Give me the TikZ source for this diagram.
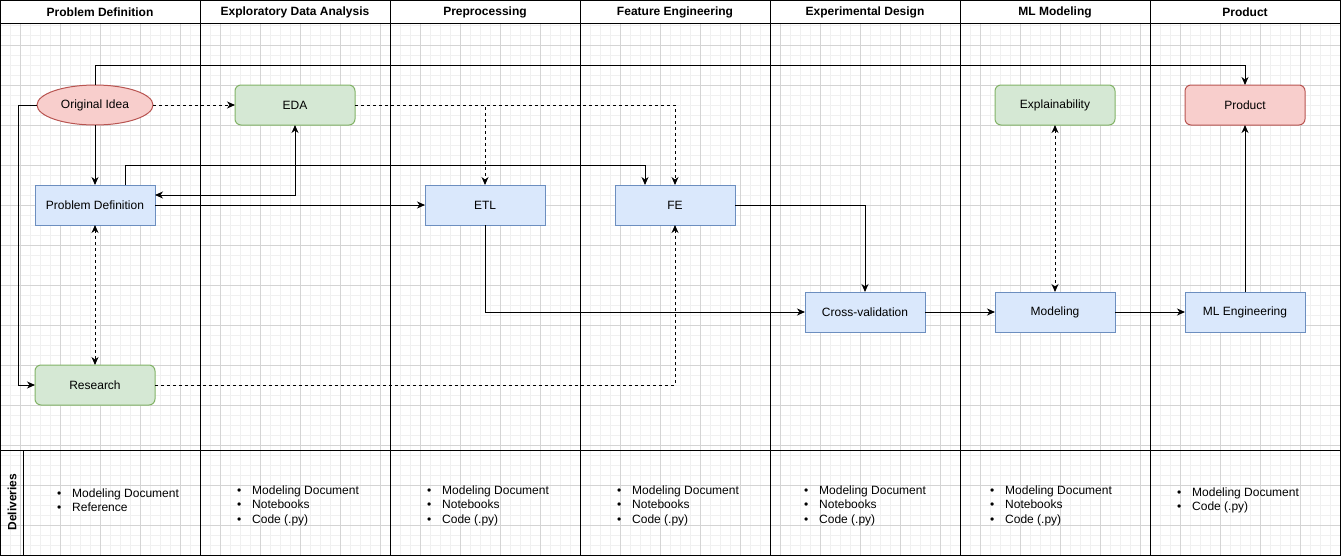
\documentclass[tikz,border=0pt]{standalone}
\usepackage{fontspec}
\setmainfont{Liberation Sans}
\usepackage{tikz}
\usetikzlibrary{calc,positioning,arrows.meta,shapes.geometric}
\definecolor{bluefill}{HTML}{DAE8FC}
\definecolor{bluedraw}{HTML}{6C8EBF}
\definecolor{greenfill}{HTML}{D5E8D4}
\definecolor{greendraw}{HTML}{82B366}
\definecolor{redfill}{HTML}{F8CECC}
\definecolor{reddraw}{HTML}{B85450}
\newcommand{\itm}[1]{\makebox[15pt][l]{\textbullet}#1}

\begin{document}
\begin{tikzpicture}[x=1pt,y=-1pt,font=\fontsize{12}{14.5}\selectfont]

\tikzset{box/.style={minimum width=120pt,minimum height=40pt,inner sep=0pt,outer sep=0pt,line width=1pt},
bluebox/.style={box,fill=bluefill,draw=bluedraw},
greenbox/.style={box,fill=greenfill,draw=greendraw,rounded corners=6pt},
redbox/.style={box,fill=redfill,draw=reddraw,rounded corners=6pt},
ideanode/.style={shape=ellipse,minimum width=116pt,minimum height=40pt,inner sep=0pt,outer sep=0pt,fill=redfill,draw=reddraw,line width=1pt},
arr/.style={line width=1pt,-{Stealth[length=8pt,width=7pt,inset=2.5pt]}},
both/.style={line width=1pt,{Stealth[length=8pt,width=7pt,inset=2.5pt]}-{Stealth[length=8pt,width=7pt,inset=2.5pt]}},
dsh/.style={dash pattern=on 3pt off 3pt},
minorgrid/.style={draw=black!6,line width=1pt},
majorgrid/.style={draw=black!17,line width=1pt},
lane/.style={draw=black,line width=1pt},
lanehead/.style={font=\fontsize{12}{14.5}\selectfont\bfseries,inner sep=0pt},
delivery/.style={anchor=west,align=left,inner sep=0pt}}

\useasboundingbox (0,0) rectangle (1341,557);
\fill[white] (0,0) rectangle (1341,557);

% Grid
\foreach \gx in {0,10,...,1340} \draw[minorgrid] (\gx,23) -- (\gx,555);
\foreach \gy in {25,35,...,555} \draw[minorgrid] (0,\gy) -- (1340,\gy);
\foreach \gx in {20,60,...,1340} \draw[majorgrid] (\gx,23) -- (\gx,555);
\foreach \gy in {45,85,...,525} \draw[majorgrid] (0,\gy) -- (1340,\gy);

% Lanes
\draw[lane] (0.5,0.5) rectangle (1340.5,555);
\draw[lane] (0,23) -- (1341,23);
\draw[lane] (0,450) -- (1341,450);
\draw[lane] (23,450) -- (23,555);
\foreach \lx in {200,390,580,770,960,1150} \draw[lane] (\lx,0) -- (\lx,555);

% Lane titles
\foreach \hx/\htext [count=\i] in {100/Problem Definition,295/Exploratory Data Analysis,485/Preprocessing,675/Feature Engineering,865/Experimental Design,1055/ML Modeling,1245/Product}
  \node[lanehead] (head\i) at (\hx,12) {\htext};
\node[lanehead,rotate=90] (delhead) at (12,502) {Deliveries};

% Nodes
\node[ideanode] (idea) at (95,105) {Original Idea};
\node[greenbox] (eda) at (295,105) {EDA};
\node[bluebox,below=60pt of idea] (probdef) {Problem Definition};
\node[greenbox,below=140pt of probdef] (research) {Research};
\node[bluebox] (etl) at (485,205) {ETL};
\node[bluebox] (fe) at (675,205) {FE};
\node[bluebox] (crossval) at (865,312) {Cross-validation};
\node[bluebox,right=70pt of crossval] (modeling) {Modeling};
\node[bluebox,right=70pt of modeling] (mleng) {ML Engineering};
\node[greenbox] (explain) at (1055,105) {Explainability};
\node[redbox] (product) at (1245,105) {Product};

% Edges
\draw[arr] (idea.north) -- ++(0,-20) -| (product.north);
\draw[arr] (idea.west) -- ++(-19,0) |- (research.west);
\draw[arr,dsh] (idea) -- (eda);
\draw[arr] (idea) -- (probdef);
\draw[both] (eda.south) |- ($(probdef.east)+(0,-10)$);
\draw[arr] ($(probdef.north)+(30,0)$) -- ++(0,-20) -| ($(fe.north)+(-30,0)$);
\draw[arr] (probdef) -- (etl);
\draw[both,dsh] (probdef) -- (research);
\draw[arr,dsh] (eda) -| (etl);
\draw[arr,dsh] (eda) -| (fe);
\draw[arr,dsh] (research) -| (fe);
\draw[arr] (etl) |- (crossval);
\draw[arr] (fe) -| (crossval);
\draw[arr] (crossval) -- (modeling);
\draw[arr] (modeling) -- (mleng);
\draw[both,dsh] (explain) -- (modeling);
\draw[arr] (mleng) -- (product);

% Deliveries
\node[delivery] (del1) at (57,500) {\itm{Modeling Document}\\\itm{Reference}};
\node[delivery] (del2) at (237,505.5) {\itm{Modeling Document}\\\itm{Notebooks}\\\itm{Code (.py)}};
\node[delivery] (del3) at (427,505.5) {\itm{Modeling Document}\\\itm{Notebooks}\\\itm{Code (.py)}};
\node[delivery] (del4) at (617,505.5) {\itm{Modeling Document}\\\itm{Notebooks}\\\itm{Code (.py)}};
\node[delivery] (del5) at (804,505.5) {\itm{Modeling Document}\\\itm{Notebooks}\\\itm{Code (.py)}};
\node[delivery] (del6) at (990,505.5) {\itm{Modeling Document}\\\itm{Notebooks}\\\itm{Code (.py)}};
\node[delivery] (del7) at (1177,500.5) {\itm{Modeling Document}\\\itm{Code (.py)}};

\end{tikzpicture}
\end{document}
